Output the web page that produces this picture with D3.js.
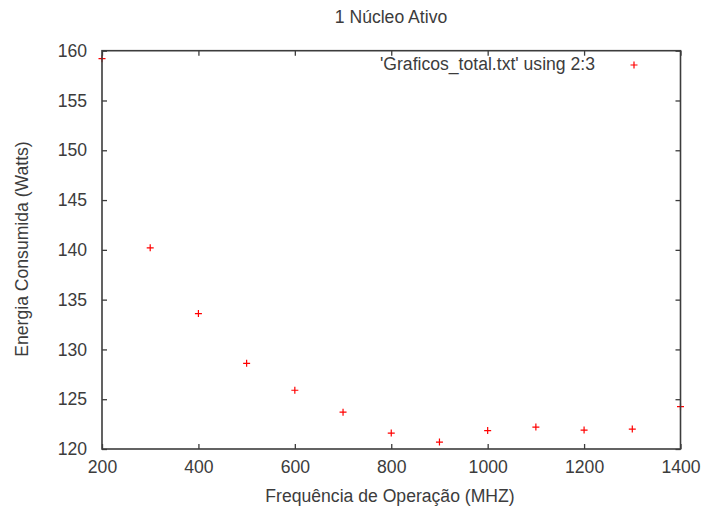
<!DOCTYPE html>
<html>
<head>
<meta charset="utf-8">
<script src="https://cdn.jsdelivr.net/npm/d3@7"></script>
<style>
  body { margin: 0; background: #fff; }
  text { font-family: "Liberation Sans", Arial, sans-serif; }
</style>
</head>
<body>
<script>
// dados
var freqs = [200, 300, 400, 500, 600, 700, 800, 900, 1000, 1100, 1200, 1300, 1400];
var energia = [159.2, 140.2, 133.6, 128.6, 125.9, 123.7, 121.6, 120.7, 121.85, 122.2, 121.9, 122.0, 124.25];
var xTicks = [200, 400, 600, 800, 1000, 1200, 1400];
var yTicks = [120, 125, 130, 135, 140, 145, 150, 155, 160];

window.onload = function(){

    var w = 701, h = 511;
    var left = 102, right = 680.5, top = 50.7, bottom = 449;
    var ink = "#3c3c3c";
    var fs = "17.6px";

    var svg = d3.select("body")
       .append("svg")
       .attr("width", w)
       .attr("height", h);

    var x = d3.scaleLinear().domain([200, 1400]).range([left, right]);
    var y = d3.scaleLinear().domain([120, 160]).range([bottom, top]);

    var pts = freqs.map(function(f, i){ return {f: f, e: energia[i]}; });

    //pontos (cruz vermelha)
    svg.append("g").attr("class", "points")
       .selectAll("path")
       .data(pts)
       .enter()
       .append("path")
       .attr("d", function(d){
         var cx = x(d.f), cy = y(d.e);
         return "M" + (cx - 3.5) + "," + cy + "H" + (cx + 3.5) +
                "M" + cx + "," + (cy - 3.5) + "V" + (cy + 3.5);
       })
       .attr("stroke", "#ff0000")
       .attr("stroke-width", 1.2)
       .attr("fill", "none");

    //axes, ticks pointing inward on all four sides
    function styleAxis(g){
       g.select(".domain").remove();
       g.selectAll(".tick line").attr("stroke", ink).attr("stroke-width", 1.3);
       g.selectAll(".tick text").attr("fill", ink).attr("font-family", null).style("font-size", fs);
    }

    svg.append("g")
       .attr("transform", "translate(0," + bottom + ")")
       .call(d3.axisBottom(x).tickValues(xTicks).tickSize(-5).tickPadding(12).tickFormat(d3.format("d")))
       .call(styleAxis);

    svg.append("g")
       .attr("transform", "translate(0," + top + ")")
       .call(d3.axisTop(x).tickValues(xTicks).tickSize(-5).tickFormat(""))
       .call(styleAxis);

    svg.append("g")
       .attr("transform", "translate(" + left + ",0)")
       .call(d3.axisLeft(y).tickValues(yTicks).tickSize(-5).tickPadding(15).tickFormat(d3.format("d")))
       .call(styleAxis);

    svg.append("g")
       .attr("transform", "translate(" + right + ",0)")
       .call(d3.axisRight(y).tickValues(yTicks).tickSize(-5).tickFormat(""))
       .call(styleAxis);

    //frame on top of points
    svg.append("rect")
       .attr("x", left)
       .attr("y", top)
       .attr("width", right - left)
       .attr("height", bottom - top)
       .attr("fill", "none")
       .attr("stroke", ink)
       .attr("stroke-width", 1.6);

    //title
    svg.append("text")
       .attr("x", 391)
       .attr("y", 23)
       .attr("text-anchor", "middle")
       .attr("fill", ink)
       .style("font-size", fs)
       .text("1 Núcleo Ativo");

    //legend
    svg.append("text")
       .attr("x", 595)
       .attr("y", 70)
       .attr("text-anchor", "end")
       .attr("fill", ink)
       .style("font-size", fs)
       .text("'Graficos_total.txt' using 2:3");

    svg.append("path")
       .attr("d", "M630.5,65H637.5M634,61.5V68.5")
       .attr("stroke", "#ff0000")
       .attr("stroke-width", 1.2);

    //axis labels
    svg.append("text")
       .attr("x", 390)
       .attr("y", 502)
       .attr("text-anchor", "middle")
       .attr("fill", ink)
       .style("font-size", fs)
       .text("Frequência de Operação (MHZ)");

    svg.append("text")
       .attr("transform", "translate(28,249) rotate(-90)")
       .attr("text-anchor", "middle")
       .attr("fill", ink)
       .style("font-size", fs)
       .text("Energia Consumida (Watts)");
};
</script>
</body>
</html>
